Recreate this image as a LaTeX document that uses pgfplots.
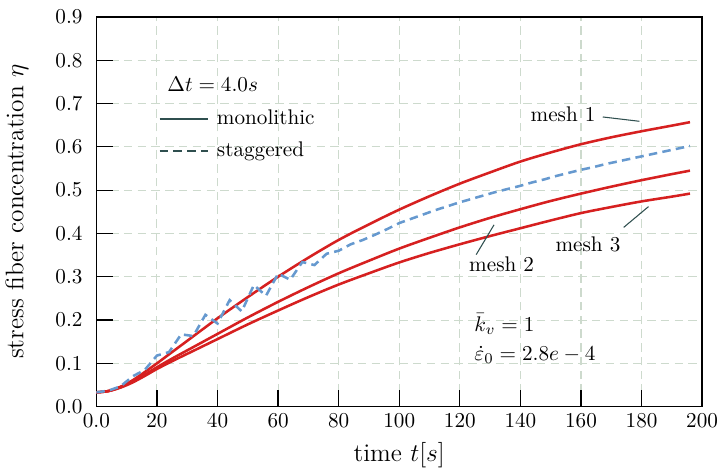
\documentclass[border=0pt]{standalone}
\usepackage{pgfplots}
\pgfplotsset{compat=1.18}
\definecolor{meshred}{RGB}{214,32,32}
\definecolor{stagblue}{RGB}{102,153,207}
\definecolor{gridc}{RGB}{205,218,205}
\definecolor{dsg}{RGB}{47,79,79}
\begin{document}
\begin{tikzpicture}
\begin{axis}[
 width=286pt, height=184pt, scale only axis,
 xmin=0, xmax=200, ymin=0, ymax=0.9,
 xtick={0,20,40,60,80,100,120,140,160,180,200},
 xticklabels={$0.0$,$20$,$40$,$60$,$80$,$100$,$120$,$140$,$160$,$180$,$200$},
 ytick={0,0.1,0.2,0.3,0.4,0.5,0.6,0.7,0.8,0.9},
 yticklabel style={xshift=-3pt, /pgf/number format/.cd, fixed, fixed zerofill, precision=1},
 tick align=inside, xtick pos=bottom, ytick pos=left,
 major tick length=8pt,
 tick style={black, line width=0.6pt},
 grid=major, grid style={gridc, dash pattern=on 4pt off 2.5pt, line width=0.5pt},
 axis line style={line width=0.8pt},
 xlabel={\large time $t[s]$}, ylabel={\large stress fiber concentration $\eta$},
 ylabel shift=6pt,
 legend style={at={(axis cs:18.2,0.705)}, anchor=north west, draw=none, fill=none, row sep=2.6pt, column sep=1.5pt},
 legend cell align=left,
 legend image code/.code={\draw[#1] (0pt,0pt) -- (23pt,0pt);},
]
\addlegendimage{dsg, line width=1.2pt}
\addlegendentry{monolithic}
\addlegendimage{dsg, line width=1.2pt, dash pattern=on 4pt off 2.5pt}
\addlegendentry{staggered}

% mesh 1
\addplot[forget plot, meshred, line width=1.2pt, smooth] coordinates {
(0,0.033)(4,0.036)(8,0.046)(12,0.061)(16,0.080)(20,0.100)(25,0.126)(30,0.152)(40,0.204)
(50,0.253)(60,0.300)(70,0.344)(80,0.385)(90,0.421)(100,0.455)(110,0.486)(120,0.515)(130,0.541)
(140,0.566)(150,0.587)(160,0.606)(170,0.622)(180,0.636)(190,0.649)(196,0.657)};
% mesh 2
\addplot[forget plot, meshred, line width=1.2pt, smooth] coordinates {
(0,0.033)(4,0.036)(8,0.045)(12,0.058)(16,0.074)(20,0.091)(25,0.111)(30,0.130)(40,0.168)
(50,0.206)(60,0.242)(70,0.276)(80,0.308)(90,0.337)(100,0.365)(110,0.390)(120,0.414)(130,0.436)
(140,0.456)(150,0.475)(160,0.492)(170,0.508)(180,0.523)(190,0.537)(196,0.545)};
% mesh 3
\addplot[forget plot, meshred, line width=1.2pt, smooth] coordinates {
(0,0.033)(4,0.036)(8,0.044)(12,0.056)(16,0.071)(20,0.087)(25,0.105)(30,0.122)(40,0.156)
(50,0.190)(60,0.222)(70,0.253)(80,0.282)(90,0.308)(100,0.333)(110,0.355)(120,0.375)(130,0.394)
(140,0.412)(150,0.430)(160,0.447)(170,0.461)(180,0.474)(190,0.485)(196,0.492)};
% staggered
\addplot[forget plot, stagblue, line width=1.2pt, dash pattern=on 4pt off 2.5pt] coordinates {
(0,0.033)(4,0.037)(8,0.047)(12,0.070)(16,0.085)(20,0.118)(24,0.126)(28,0.167)(32,0.163)(36,0.212)
(40,0.192)(44,0.246)(48,0.220)(52,0.281)(56,0.256)(60,0.307)(64,0.293)(68,0.334)(72,0.327)(76,0.353)
(80,0.360)(84,0.375)(88,0.385)(92,0.397)(96,0.410)(100,0.424)(104,0.434)(108,0.444)(112,0.454)
(116,0.463)(120,0.472)(124,0.480)(128,0.488)(132,0.496)(136,0.503)(140,0.510)(144,0.518)(148,0.525)
(152,0.533)(156,0.540)(160,0.547)(164,0.553)(168,0.560)(172,0.566)(176,0.572)(180,0.578)(184,0.584)
(188,0.590)(192,0.596)(196,0.602)};

\node[anchor=west] at (axis cs:21,0.745) {$\Delta t = 4.0s$};
\draw[dsg, line width=0.5pt] (axis cs:167.2,0.669) -- (axis cs:179.3,0.659);
\node at (axis cs:154.1,0.676) {mesh 1};
\draw[dsg, line width=0.5pt] (axis cs:125.4,0.351) -- (axis cs:131.3,0.420);
\node at (axis cs:133.8,0.328) {mesh 2};
\draw[dsg, line width=0.5pt] (axis cs:174.1,0.414) -- (axis cs:182.3,0.462);
\node at (axis cs:162.3,0.374) {mesh 3};
\node[anchor=west, align=left, inner sep=1pt] at (axis cs:124,0.157) {$\bar{k}_v = 1$\\[2pt]$\dot{\varepsilon}_0 = 2.8e-4$};
\coordinate (bl) at (rel axis cs:0,0);
\coordinate (tr) at (rel axis cs:1,1);
\end{axis}
\pgfresetboundingbox
\path ([shift={(-45.5pt,-31pt)}]bl) rectangle ([shift={(7.5pt,8pt)}]tr);
\end{tikzpicture}
\end{document}
